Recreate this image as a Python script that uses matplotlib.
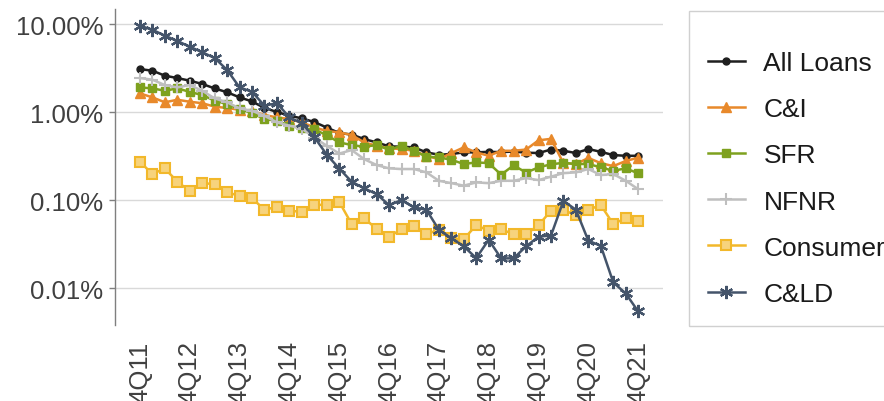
import matplotlib
matplotlib.use("Agg")
import matplotlib.pyplot as plt
from matplotlib.patches import Rectangle
from matplotlib.ticker import FixedLocator, NullLocator

plt.rcParams['font.family'] = ['Liberation Sans', 'DejaVu Sans']

# quarterly net charge-off rates, 4Q11 .. 4Q21 (percent)
quarters = list(range(41))
tick_pos = [0, 4, 8, 12, 16, 20, 24, 28, 32, 36, 40]
tick_labels = ["4Q11", "4Q12", "4Q13", "4Q14", "4Q15", "4Q16",
               "4Q17", "4Q18", "4Q19", "4Q20", "4Q21"]

all_loans = [3.10, 2.97, 2.61, 2.45, 2.29, 2.10, 1.87, 1.69, 1.48, 1.33,
             1.12, 1.01, 0.914, 0.855, 0.776, 0.672, 0.582, 0.560, 0.497, 0.456,
             0.411, 0.407, 0.400, 0.351, 0.330, 0.336, 0.351, 0.351, 0.356, 0.353,
             0.359, 0.348, 0.345, 0.378, 0.366, 0.345, 0.383, 0.356, 0.327, 0.321,
             0.321]
c_and_i = [1.64, 1.48, 1.30, 1.39, 1.32, 1.27, 1.16, 1.12, 1.07, 1.04,
           0.932, 0.877, 0.839, 0.769, 0.676, 0.613, 0.593, 0.552, 0.456, 0.417,
           0.390, 0.383, 0.366, 0.321, 0.294, 0.345, 0.400, 0.351, 0.321, 0.366,
           0.366, 0.378, 0.481, 0.500, 0.265, 0.259, 0.303, 0.265, 0.245, 0.280,
           0.306]
sfr = [1.92, 1.87, 1.76, 1.87, 1.71, 1.57, 1.36, 1.24, 1.09, 0.982,
       0.839, 0.803, 0.705, 0.658, 0.641, 0.548, 0.456, 0.425, 0.406, 0.425,
       0.376, 0.417, 0.366, 0.313, 0.308, 0.289, 0.259, 0.270, 0.265, 0.196,
       0.250, 0.207, 0.237, 0.257, 0.267, 0.259, 0.259, 0.237, 0.217, 0.231,
       0.203]
nfnr = [2.45, 2.35, 2.04, 1.92, 2.04, 1.76, 1.44, 1.30, 1.11, 1.04,
        0.914, 0.769, 0.705, 0.654, 0.517, 0.417, 0.340, 0.373, 0.294, 0.252,
        0.231, 0.227, 0.227, 0.208, 0.167, 0.157, 0.147, 0.160, 0.157, 0.167,
        0.167, 0.179, 0.170, 0.186, 0.204, 0.208, 0.227, 0.194, 0.199, 0.167,
        0.134]
consumer = [0.275, 0.199, 0.231, 0.163, 0.128, 0.157, 0.153, 0.123, 0.113, 0.106,
            0.0782, 0.0846, 0.0762, 0.0742, 0.0895, 0.0885, 0.0964, 0.0538, 0.0630, 0.0472,
            0.0385, 0.0472, 0.0514, 0.0414, 0.0463, 0.0370, 0.0363, 0.0524, 0.0451, 0.0472,
            0.0411, 0.0411, 0.0524, 0.0762, 0.0776, 0.0681, 0.0782, 0.0885, 0.0538, 0.0630,
            0.0577]
c_and_ld = [9.64, 8.68, 7.42, 6.46, 5.57, 4.81, 4.14, 3.03, 1.92, 1.71,
            1.19, 1.27, 0.877, 0.750, 0.524, 0.330, 0.230, 0.163, 0.137, 0.118,
            0.0885, 0.1007, 0.0832, 0.0782, 0.0463, 0.0373, 0.0300, 0.0221, 0.0357, 0.0219,
            0.0220, 0.0300, 0.0388, 0.0398, 0.0989, 0.0782, 0.0348, 0.0305, 0.0117, 0.00877,
            0.00548]

fig = plt.figure(figsize=(8.84, 4.02), dpi=100)
ax = fig.add_axes([0.1301, 0.189, 0.62, 0.786])

lw = 1.8
ax.plot(quarters, all_loans, color='#1f1f1f', lw=lw, marker='o', ms=5,
        label='All Loans')
ax.plot(quarters, c_and_i, color='#e8892b', lw=lw, marker='^', ms=6.5,
        label='C&I')
ax.plot(quarters, sfr, color='#7ea11e', lw=lw, marker='s', ms=6,
        label='SFR')
ax.plot(quarters, nfnr, color='#bfbfbf', lw=lw, marker='+', ms=8, mew=1.5,
        label='NFNR')
ax.plot(quarters, consumer, color='#f2b82a', lw=lw, marker='s', ms=6.5,
        mfc='#f7d37c', mec='#f2b82a', mew=1.5, label='Consumer')
ax.plot(quarters, c_and_ld, color='#44546a', lw=lw, marker=(6, 2, 0), ms=9.5,
        mew=1.6, label='C&LD')

ax.set_yscale('log')
ax.set_ylim(0.00384, 14.9)
ax.set_xlim(-2, 42)

ax.yaxis.set_major_locator(FixedLocator([0.01, 0.1, 1, 10]))
ax.yaxis.set_minor_locator(NullLocator())
ax.set_yticklabels(["0.01%", "0.10%", "1.00%", "10.00%"])
ax.tick_params(axis='y', length=4.5, width=1, color='#7f7f7f', pad=4,
               labelsize=18.5, labelcolor='#404040')
ax.grid(axis='y', color='#d9d9d9', lw=1)
ax.set_axisbelow(True)

ax.set_xticks(tick_pos)
ax.set_xticklabels(tick_labels, rotation=90, va='top', ha='center')
ax.tick_params(axis='x', length=0, pad=11, labelsize=18.5, labelcolor='#404040')

for side in ['top', 'right', 'bottom']:
    ax.spines[side].set_visible(False)
ax.spines['left'].set_color('#7f7f7f')
ax.spines['left'].set_linewidth(1)

# legend frame drawn by hand so it can run off the right edge
fig.patches.append(Rectangle((0.7794, 0.1866), 0.25, 0.7836, transform=fig.transFigure,
                             fill=False, edgecolor='#d0d0d0', lw=1))
fig.legend(loc='upper left', bbox_to_anchor=(708 / 884, 1 - 52 / 402),
           frameon=False, borderpad=0, borderaxespad=0, fontsize=19,
           handlelength=1.4, handletextpad=0.7, labelspacing=0.84,
           labelcolor='#1a1a1a')

fig.savefig("out.png", dpi=100)
